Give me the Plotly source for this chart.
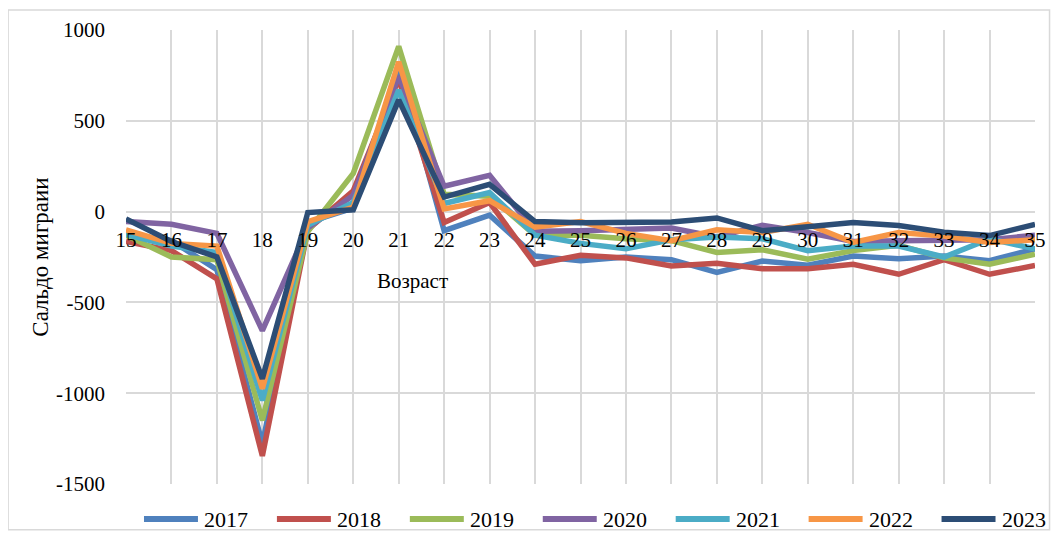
import plotly.graph_objects as go

ages = list(range(15, 36))
years = ["2017", "2018", "2019", "2020", "2021", "2022", "2023"]
colors = ["#4F81BD", "#C0504D", "#9BBB59", "#8064A2", "#4BACC6", "#F79646", "#2C4D75"]

y2017 = [-125, -160, -320, -1280, -60, 20, 800, -105, -20, -245, -270, -250, -265, -335, -272, -295, -245, -260, -245, -270, -205]
y2018 = [-165, -215, -370, -1345, -100, 115, 730, -60, 50, -290, -240, -255, -300, -285, -315, -315, -290, -345, -265, -345, -297]
y2019 = [-130, -250, -265, -1150, -110, 210, 910, 95, 85, -130, -130, -150, -160, -225, -210, -262, -215, -185, -255, -290, -235]
y2020 = [-55, -70, -120, -655, -90, 90, 745, 140, 200, -108, -105, -95, -90, -140, -75, -115, -165, -160, -160, -155, -130]
y2021 = [-125, -190, -225, -1040, -75, 50, 670, 45, 105, -130, -175, -205, -155, -140, -150, -215, -190, -190, -250, -150, -205]
y2022 = [-100, -175, -190, -975, -55, 25, 825, 15, 60, -85, -55, -120, -160, -100, -115, -70, -170, -115, -135, -170, -155]
y2023 = [-40, -165, -250, -920, -5, 10, 615, 80, 150, -55, -62, -60, -57, -35, -105, -83, -60, -77, -114, -132, -70]

series = [y2017, y2018, y2019, y2020, y2021, y2022, y2023]

y_ticks = [1000, 500, 0, -500, -1000, -1500]
y_ticktext = ["1000", "500", "0", "-500", "-1000", "-1500"]

FONT = "Liberation Serif"

# plot area geometry (pixels) used only to lay out the custom legend
PLOT_W = 909.5
PLOT_H = 454

fig = go.Figure()
for name, vals, c in zip(years, series, colors):
    fig.add_trace(go.Scatter(x=ages, y=vals, name=name, mode="lines",
                             line=dict(color=c, width=5.5), showlegend=False))

shapes = [dict(type="rect", xref="paper", yref="paper", x0=-0.1297, x1=1.016, y0=-0.101, y1=1.044,
               line=dict(color="#d9d9d9", width=1.5), fillcolor="rgba(0,0,0,0)", layer="below")]
annotations = [dict(text="Возраст", x=21.31, y=-380, xref="x", yref="y", showarrow=False,
                    font=dict(family=FONT, size=21), xanchor="center", yanchor="middle")]

# custom legend row below the plot
leg_y = -35 / PLOT_H
for i, (name, c) in enumerate(zip(years, colors)):
    x0 = (18 + 133 * i) / PLOT_W
    x1 = (72 + 133 * i) / PLOT_W
    shapes.append(dict(type="line", xref="paper", yref="paper", x0=x0, x1=x1, y0=leg_y, y1=leg_y,
                       line=dict(color=c, width=6)))
    annotations.append(dict(text=name, xref="paper", yref="paper", x=(76 + 133 * i) / PLOT_W, y=leg_y,
                            xanchor="left", yanchor="middle", showarrow=False,
                            font=dict(family=FONT, size=22, color="black")))

fig.update_layout(
    width=1051, height=527,
    margin=dict(l=118, r=23.5, t=22, b=51, autoexpand=False),
    paper_bgcolor="white", plot_bgcolor="white",
    font=dict(family=FONT, size=20, color="black"),
    showlegend=False,
    xaxis=dict(range=[15, 35], tickmode="array", tickvals=ages, ticktext=[str(a) for a in ages],
               showgrid=True, gridcolor="#d9d9d9", gridwidth=1.5,
               anchor="free", position=0.6, showline=False, zeroline=False,
               ticks="", ticklabelstandoff=13, tickfont=dict(family=FONT, size=21)),
    yaxis=dict(range=[-1500, 1000], tickmode="array", tickvals=y_ticks, ticktext=y_ticktext,
               showgrid=True, gridcolor="#d9d9d9", gridwidth=1.5,
               zeroline=False, showline=False, ticks="", ticklabelstandoff=20,
               tickfont=dict(family=FONT, size=21),
               title=dict(text="Сальдо миграии", font=dict(family=FONT, size=23), standoff=0)),
    shapes=shapes,
    annotations=annotations,
)

fig.write_html("out.html")
